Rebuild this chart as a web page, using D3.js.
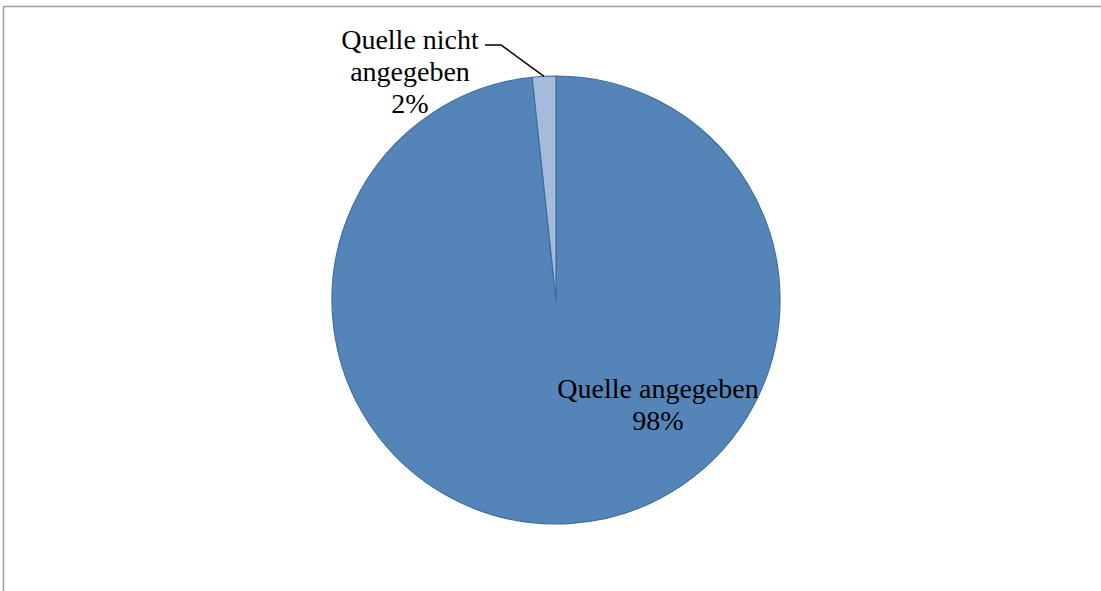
<!DOCTYPE html>
<html><head><meta charset="utf-8">
<script src="https://cdn.jsdelivr.net/npm/d3@7"></script>
<style>html,body{margin:0;padding:0;background:#fff;}</style>
</head><body>
<script>
const categories = ["Quelle angegeben", "Quelle nicht angegeben"];
const values = [98.3, 1.7];
const colors = ["#5584b8", "#a6badb"];

const W = 1101, H = 591;
const svg = d3.select("body").append("svg").attr("width", W).attr("height", H);

// frame (top and left edges visible)
svg.append("line").attr("x1", 3.5).attr("y1", 6.5).attr("x2", W).attr("y2", 6.5).attr("stroke", "#a0a0a0").attr("stroke-width", 1.5);
svg.append("line").attr("x1", 3.5).attr("y1", 6.5).attr("x2", 3.5).attr("y2", H).attr("stroke", "#a0a0a0").attr("stroke-width", 1.5);

const cx = 556, cy = 300, R = 224;
const total = d3.sum(values);
const pie = d3.pie().sort(null).value(d => d)(values);
const arc = d3.arc().innerRadius(0).outerRadius(R);
const g = svg.append("g").attr("transform", `translate(${cx},${cy})`);
g.selectAll("path").data(pie).join("path")
  .attr("d", arc).attr("fill", (d, i) => colors[i])
  .attr("stroke", "#3f6d9f").attr("stroke-width", 1.2).attr("stroke-linejoin", "round");

const font = "'Liberation Serif', 'DejaVu Serif', serif";
const fs = 28, lh = 32;
const pct = v => Math.round(v / total * 100) + "%";

// big slice label
const t1 = svg.append("text").attr("x", 658).attr("y", 398).attr("text-anchor", "middle")
  .attr("font-family", font).attr("font-size", fs).attr("fill", "#000");
t1.append("tspan").attr("x", 658).text(categories[0]);
t1.append("tspan").attr("x", 658).attr("dy", lh).text(pct(values[0]));

// small slice label
const t2 = svg.append("text").attr("x", 410).attr("y", 49).attr("text-anchor", "middle")
  .attr("font-family", font).attr("font-size", fs).attr("fill", "#000");
t2.append("tspan").attr("x", 410).text("Quelle nicht");
t2.append("tspan").attr("x", 410).attr("dy", lh).text("angegeben");
t2.append("tspan").attr("x", 410).attr("dy", lh).text(pct(values[1]));

// leader line to small slice outer edge midpoint
const mid = (pie[1].startAngle + pie[1].endAngle) / 2;
const ex = cx + Math.sin(mid) * R, ey = cy - Math.cos(mid) * R;
svg.append("path").attr("d", `M485,45 L501,45 L${ex},${ey}`)
  .attr("fill", "none").attr("stroke", "#000").attr("stroke-width", 1.5);
</script>
</body></html>
